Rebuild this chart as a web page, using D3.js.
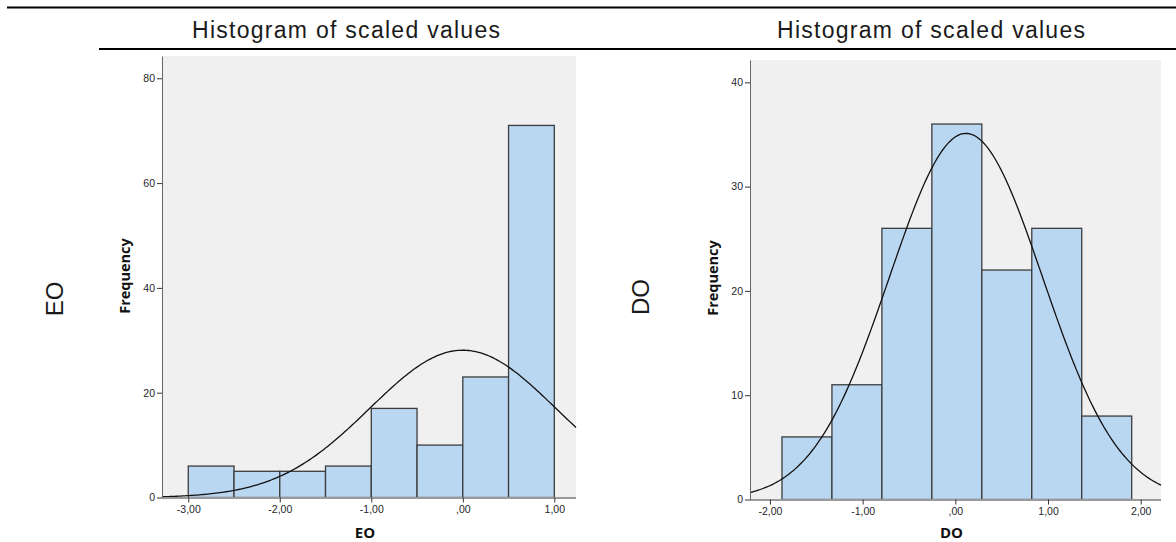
<!DOCTYPE html>
<style>
  body { margin: 0; background: #fff; }
  .tick text { font-family: "Liberation Sans", Arial, sans-serif; font-size: 10.5px; fill: #1f1f2a; }
  .tick line { stroke: #333; }
</style>
<svg width="1176" height="542"></svg>
<script src="https://d3js.org/d3.v7.min.js"></script>
<script>

var svg = d3.select("svg"),
    width = +svg.attr("width"),
    height = +svg.attr("height");

// EO histogram
var eoEdges = [-3.0, -2.5, -2.0, -1.5, -1.0, -0.5, 0.0, 0.5, 1.0];
var eoCounts = [6, 5, 5, 6, 17, 10, 23, 71];
var eoXTicks = [-3, -2, -1, 0, 1];
var eoXLabels = ["-3,00", "-2,00", "-1,00", ",00", "1,00"];
var eoYTicks = [0, 20, 40, 60, 80];
var eoNormal = [0.0, 1.015]; // mean, sd

// DO histogram
var doEdges = [-1.870, -1.331, -0.792, -0.253, 0.286, 0.825, 1.364, 1.903];
var doCounts = [6, 11, 26, 36, 22, 26, 8];
var doXTicks = [-2, -1, 0, 1, 2];
var doXLabels = ["-2,00", "-1,00", ",00", "1,00", "2,00"];
var doYTicks = [0, 10, 20, 30, 40];
var doNormal = [0.115, 0.827];

// frame lines and headings
svg.append("line")
    .attr("x1", 7).attr("x2", width)
    .attr("y1", 7.5).attr("y2", 7.5)
    .attr("stroke", "#000").attr("stroke-width", 2);

svg.append("line")
    .attr("x1", 99).attr("x2", width)
    .attr("y1", 49).attr("y2", 49)
    .attr("stroke", "#000").attr("stroke-width", 2);

[[346, "Histogram of scaled values"], [931, "Histogram of scaled values"]].forEach(function(t) {
  svg.append("text")
      .attr("x", t[0])
      .attr("y", 38)
      .attr("text-anchor", "middle")
      .attr("font-family", "Liberation Sans, Arial, sans-serif")
      .attr("font-size", 23)
      .attr("fill", "#1a1a1a")
      .attr("textLength", 308)
      .text(t[1]);
});

[[55, 299, "EO"], [641, 297, "DO"]].forEach(function(t) {
  svg.append("text")
      .attr("transform", "translate(" + (t[0] + 8) + "," + t[1] + ") rotate(-90)")
      .attr("text-anchor", "middle")
      .attr("font-family", "Liberation Sans, Arial, sans-serif")
      .attr("font-size", 24)
      .attr("fill", "#1a1a1a")
      .text(t[2]);
});

function panel(o) {
  var x = d3.scaleLinear().domain(o.xDomain).range([o.left, o.right]);
  var y = d3.scaleLinear().domain(o.yDomain).range([o.bottom, o.top]);
  var g = svg.append("g");

  g.append("rect")
      .attr("x", o.left).attr("y", o.top)
      .attr("width", o.right - o.left).attr("height", o.bottom - o.top)
      .attr("fill", "#f0f0f0");

  g.selectAll(".bar")
    .data(o.counts)
    .enter().append("rect")
      .attr("class", "bar")
      .attr("x", function(d, i) { return x(o.edges[i]); })
      .attr("width", function(d, i) { return x(o.edges[i + 1]) - x(o.edges[i]); })
      .attr("y", function(d) { return y(d); })
      .attr("height", function(d) { return y(0) - y(d); })
      .attr("fill", "#bad7f2")
      .attr("stroke", "#3c3c3c")
      .attr("stroke-width", 1.3);

  // fitted normal curve
  var n = d3.sum(o.counts),
      bw = o.edges[1] - o.edges[0],
      mu = o.normal[0], sd = o.normal[1];
  var xs = d3.range(0, 201).map(function(i) {
    return o.xDomain[0] + (o.xDomain[1] - o.xDomain[0]) * i / 200;
  });
  var line = d3.line()
      .x(function(v) { return x(v); })
      .y(function(v) {
        var z = (v - mu) / sd;
        return y(n * bw / (sd * Math.sqrt(2 * Math.PI)) * Math.exp(-z * z / 2));
      });
  g.append("path")
      .datum(xs)
      .attr("fill", "none")
      .attr("stroke", "#111")
      .attr("stroke-width", 1.3)
      .attr("d", line);

  // baseline
  g.append("line")
      .attr("x1", o.left).attr("x2", o.right)
      .attr("y1", o.bottom + 0.5).attr("y2", o.bottom + 0.5)
      .attr("stroke", "#9a9a9a").attr("stroke-width", 2);

  var xa = g.append("g")
      .attr("transform", "translate(0," + o.bottom + ")")
      .call(d3.axisBottom(x)
        .tickValues(o.xTicks)
        .tickFormat(function(d, i) { return o.xLabels[i]; })
        .tickSize(5)
        .tickSizeOuter(0)
        .tickPadding(3));
  xa.select(".domain").remove();

  var ya = g.append("g")
      .attr("transform", "translate(" + o.left + ",0)")
      .call(d3.axisLeft(y)
        .tickValues(o.yTicks)
        .tickSize(5)
        .tickSizeOuter(0)
        .tickPadding(2));
  ya.select(".domain").attr("stroke", "#666");

  g.append("text")
      .attr("x", (o.left + o.right) / 2 - 4)
      .attr("y", 538)
      .attr("text-anchor", "middle")
      .attr("font-family", "Open Sans, DejaVu Sans, sans-serif")
      .attr("font-weight", "bold")
      .attr("font-size", 15)
      .attr("fill", "#111")
      .text(o.xTitle);

  g.append("text")
      .attr("transform", "translate(" + o.yTitleX + "," + o.yTitleY + ") rotate(-90)")
      .attr("text-anchor", "middle")
      .attr("font-family", "Open Sans, DejaVu Sans, sans-serif")
      .attr("font-weight", "bold")
      .attr("font-size", 14.5)
      .attr("fill", "#111")
      .text("Frequency");
}

panel({
  left: 162, right: 576, top: 56, bottom: 497.5,
  xDomain: [-3.287, 1.237], yDomain: [0, 84.25],
  edges: eoEdges, counts: eoCounts, normal: eoNormal,
  xTicks: eoXTicks, xLabels: eoXLabels, yTicks: eoYTicks,
  xTitle: "EO", yTitleX: 130, yTitleY: 276
});

panel({
  left: 750, right: 1161, top: 60, bottom: 499.5,
  xDomain: [-2.215, 2.219], yDomain: [0, 42.14],
  edges: doEdges, counts: doCounts, normal: doNormal,
  xTicks: doXTicks, xLabels: doXLabels, yTicks: doYTicks,
  xTitle: "DO", yTitleX: 718, yTitleY: 278
});

</script>
